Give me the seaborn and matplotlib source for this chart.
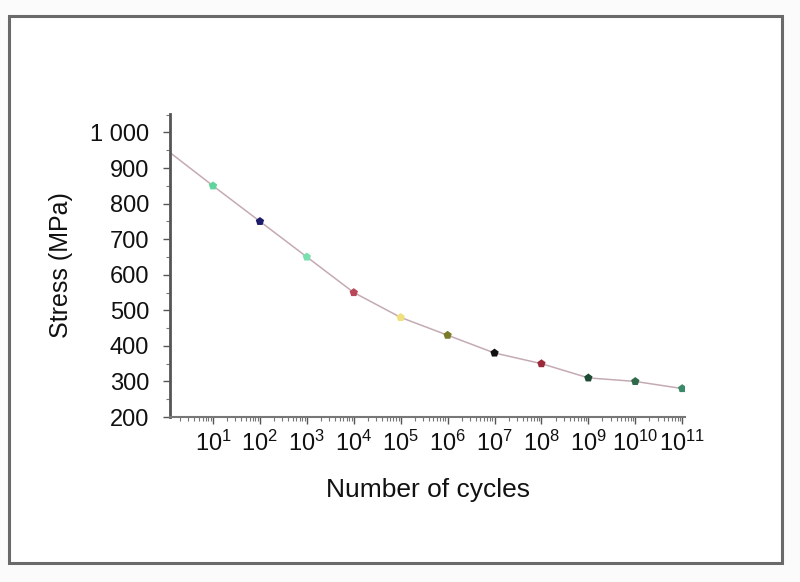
import numpy as np
import pandas as pd
import matplotlib
matplotlib.use("Agg")
import matplotlib.pyplot as plt
import seaborn as sns
from matplotlib.patches import Rectangle
from matplotlib.ticker import FixedLocator, LogLocator, NullFormatter, MultipleLocator

# Data
line_cycles = [1, 1e1, 1e2, 1e3, 1e4, 1e5, 1e6, 1e7, 1e8, 1e9, 1e10, 1e11]
line_stress = [952, 850, 750, 650, 550, 480, 430, 380, 350, 310, 300, 280]
point_cycles = [1e1, 1e2, 1e3, 1e4, 1e5, 1e6, 1e7, 1e8, 1e9, 1e10, 1e11]
point_stress = [850, 750, 650, 550, 480, 430, 380, 350, 310, 300, 280]
point_ids = ["p1", "p2", "p3", "p4", "p5", "p6", "p7", "p8", "p9", "p10", "p11"]
point_colors = ["#5fd49c", "#1c1c6a", "#7adfae", "#b8475a", "#eee07a", "#7a7a28",
                "#111111", "#9a2a3a", "#1f4a36", "#2e6a4a", "#3a8a6a"]
x_tick_values = [1e1, 1e2, 1e3, 1e4, 1e5, 1e6, 1e7, 1e8, 1e9, 1e10, 1e11]
x_tick_labels = [r"$\mathregular{10^{%d}}$" % i for i in range(1, 12)]
y_tick_values = [200, 300, 400, 500, 600, 700, 800, 900, 1000]
y_tick_labels = ["200", "300", "400", "500", "600", "700", "800", "900", "1 000"]

sns.set_theme(style="white")
plt.rcParams["font.family"] = ["Liberation Sans", "DejaVu Sans"]
plt.rcParams["mathtext.fontset"] = "custom"
plt.rcParams["mathtext.rm"] = "Liberation Sans"

fig = plt.figure(figsize=(8, 5.82), dpi=100)
fig.patch.set_facecolor("#fbfbfb")
border = Rectangle((9 / 800, 1 - 563 / 582), (782 - 9) / 800, (563 - 16) / 582,
                   transform=fig.transFigure, facecolor="white",
                   edgecolor="#6a6a6a", linewidth=2.2, zorder=-10)
fig.add_artist(border)

ax = fig.add_axes([170 / 800, 1 - 417 / 582, (685 - 170) / 800, (417 - 114) / 582])
ax.set_zorder(1)
ax.set_facecolor("none")

df_line = pd.DataFrame({"cycles": line_cycles, "stress": line_stress})
df_pts = pd.DataFrame({"cycles": point_cycles, "stress": point_stress, "id": point_ids})

sns.lineplot(data=df_line, x="cycles", y="stress", ax=ax, color="#c4aab4", linewidth=1.1)
sns.scatterplot(data=df_pts, x="cycles", y="stress", hue="id", palette=point_colors,
                marker="p", s=40, edgecolor="none", ax=ax, legend=False, zorder=3)

ax.set_xscale("log")
ax.set_xlim(10 ** 0.083, 10 ** 11.06)
ax.set_ylim(200, 1052)

ax.xaxis.set_major_locator(FixedLocator(x_tick_values))
ax.set_xticklabels(x_tick_labels)
ax.xaxis.set_minor_locator(LogLocator(base=10, subs=np.arange(2, 10), numticks=100))
ax.xaxis.set_minor_formatter(NullFormatter())
ax.set_yticks(y_tick_values)
ax.set_yticklabels(y_tick_labels)
ax.yaxis.set_minor_locator(MultipleLocator(50))

for s in ["top", "right"]:
    ax.spines[s].set_visible(False)
ax.spines["left"].set_color("#555555")
ax.spines["left"].set_linewidth(2)
ax.spines["bottom"].set_color("#777777")
ax.spines["bottom"].set_linewidth(1.5)

ax.tick_params(axis="both", which="both", bottom=True, left=True, top=False, right=False)
ax.tick_params(axis="both", which="major", direction="out", length=5, width=1,
               color="#555555", labelsize=17, labelcolor="#111111")
ax.tick_params(axis="x", which="major", pad=5)
ax.tick_params(axis="y", which="major", pad=10)
ax.tick_params(axis="both", which="minor", direction="out", length=3, width=0.8,
               color="#777777")

ax.set_xlabel("Number of cycles", fontsize=19, color="#111111", labelpad=16)
ax.set_ylabel("Stress (MPa)", fontsize=18, color="#111111", labelpad=12)

fig.savefig("out.png", dpi=100, facecolor=fig.get_facecolor())
